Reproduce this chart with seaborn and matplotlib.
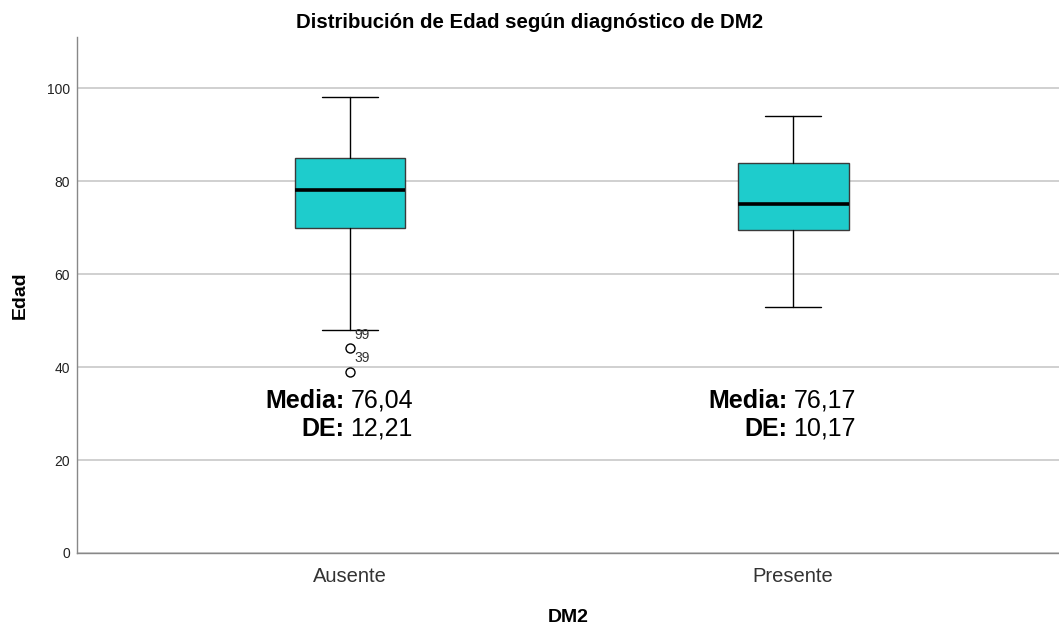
import matplotlib
matplotlib.use("Agg")
import matplotlib.pyplot as plt
import seaborn as sns

# Five-number summaries of age by DM2 group
categories = ["Ausente", "Presente"]
whisker_low = [48, 53]
q1 = [70, 69.5]
median = [78, 75]
q3 = [85, 84]
whisker_high = [98, 94]
outliers = [[44, 39], []]
outlier_ids = [["99", "39"], []]
means = ["76,04", "76,17"]
sds = ["12,21", "10,17"]

sns.set_theme(style="white")
plt.rcParams["font.family"] = ["Liberation Sans", "DejaVu Sans"]

fig = plt.figure(figsize=(10.59, 6.25), dpi=100)
ax = fig.add_axes([77 / 1059, 1 - 553 / 625, 982 / 1059, (553 - 37) / 625])

stats = []
for i, cat in enumerate(categories):
    stats.append(dict(label=cat, whislo=whisker_low[i], q1=q1[i], med=median[i],
                      q3=q3[i], whishi=whisker_high[i], fliers=outliers[i]))

positions = list(range(len(categories)))
ax.bxp(stats, positions=positions, widths=0.25, patch_artist=True, showfliers=True,
       boxprops=dict(facecolor="#1ECCCC", edgecolor="#3a3a3a", linewidth=1.0),
       medianprops=dict(color="black", linewidth=2.6),
       whiskerprops=dict(color="black", linewidth=1.0),
       capprops=dict(color="black", linewidth=1.0),
       capwidths=0.125,
       flierprops=dict(marker="o", markerfacecolor="white", markeredgecolor="black",
                       markersize=6.5, markeredgewidth=1.0))

# Case labels beside the outliers
for i, ids in enumerate(outlier_ids):
    for val, lab in zip(outliers[i], ids):
        ax.annotate(lab, (positions[i], val), xytext=(3.5, 10), textcoords="offset points",
                    fontsize=10, color="#333333", ha="left", va="center")

# Mean and SD annotations
for i in positions:
    for yv, key, val in [(32.7, "Media:", means[i]), (26.7, "DE:", sds[i])]:
        ax.text(positions[i] - 0.013, yv, key, fontsize=18, fontweight="bold",
                ha="right", va="center", color="black")
        ax.text(positions[i] + 0.001, yv, val, fontsize=18,
                ha="left", va="center", color="black")

ax.set_xlim(-0.616, 1.600)
ax.set_ylim(0, 111)
ax.set_yticks([0, 20, 40, 60, 80, 100])
ax.set_xticks(positions)
ax.set_xticklabels(categories, fontsize=14.5, color="#333333")
ax.tick_params(axis="y", labelsize=10, labelcolor="#222222", length=0, pad=5)
ax.tick_params(axis="x", length=0, pad=10)
ax.yaxis.grid(True, color="#c8c8c8", linewidth=1.2)
ax.set_axisbelow(True)

for side in ["top", "right"]:
    ax.spines[side].set_visible(False)
for side in ["left", "bottom"]:
    ax.spines[side].set_color("#888888")
    ax.spines[side].set_linewidth(1.0)

ax.set_xlabel("DM2", fontsize=14, fontweight="bold", labelpad=17, color="black")
ax.set_ylabel("Edad", fontsize=14, fontweight="bold", labelpad=13, color="black")
fig.suptitle("Distribución de Edad según diagnóstico de DM2", fontsize=14.7,
             fontweight="bold", x=0.5, y=1 - 22 / 625, va="center", color="black")

fig.savefig("out.png", dpi=100)
